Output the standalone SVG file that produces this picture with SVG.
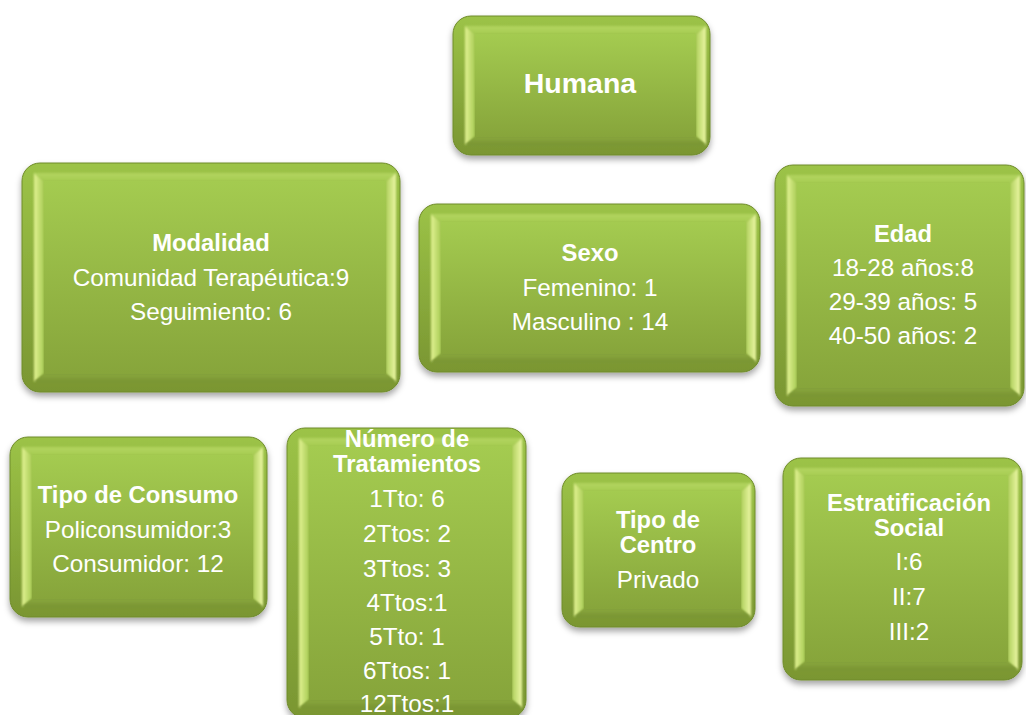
<svg xmlns="http://www.w3.org/2000/svg" width="1026" height="715" viewBox="0 0 1026 715">
  <defs>
    <linearGradient id="gRim" x1="0" y1="0" x2="0" y2="1">
      <stop offset="0" stop-color="#9cc347"/>
      <stop offset="1" stop-color="#7a9632"/>
    </linearGradient>
    <linearGradient id="gFace" x1="0" y1="0" x2="0" y2="1">
      <stop offset="0" stop-color="#a4cb50"/>
      <stop offset="1" stop-color="#87a53b"/>
    </linearGradient>
    <linearGradient id="gTop" x1="0" y1="0" x2="0" y2="1">
      <stop offset="0" stop-color="#b3d560"/>
      <stop offset="1" stop-color="#a6cc52"/>
    </linearGradient>
    <linearGradient id="gLeft" x1="0" y1="0" x2="1" y2="0">
      <stop offset="0" stop-color="#e2f292"/>
      <stop offset="1" stop-color="#a8cc55"/>
    </linearGradient>
    <linearGradient id="gRight" x1="0" y1="0" x2="1" y2="0">
      <stop offset="0" stop-color="#b0d05c"/>
      <stop offset="1" stop-color="#ecf7a4"/>
    </linearGradient>
    <linearGradient id="gBottom" x1="0" y1="0" x2="0" y2="1">
      <stop offset="0" stop-color="#8aa73e"/>
      <stop offset="1" stop-color="#789332"/>
    </linearGradient>
    <filter id="shadow" filterUnits="userSpaceOnUse" x="0" y="0" width="1026" height="740">
      <feDropShadow dx="0" dy="4" stdDeviation="3" flood-color="#000" flood-opacity="0.35"/>
    </filter>
    <filter id="soft" filterUnits="userSpaceOnUse" x="0" y="0" width="1026" height="740">
      <feGaussianBlur stdDeviation="1.2"/>
    </filter>
  </defs>
  <style>
    .rim { fill: url(#gRim); stroke: #6f8b2b; stroke-width: 1; filter: url(#shadow); }
    .face { fill: url(#gFace); }
    .bt { fill: url(#gTop); filter: url(#soft); }
    .bl { fill: url(#gLeft); filter: url(#soft); }
    .br { fill: url(#gRight); filter: url(#soft); }
    .bb { fill: url(#gBottom); filter: url(#soft); }
    text { font-family: "Liberation Sans", Arial, sans-serif; fill: #ffffff; font-size: 24.3px; text-anchor: middle; }
    .title { font-weight: bold; font-size: 23.8px; }
    .big { font-size: 28.5px; font-weight: bold; }
  </style>

  <!-- no connectors are drawn between the boxes -->
  <g id="connectors"></g>

  <g id="node-humana">
    <rect class="rim" x="453" y="16" width="257" height="139" rx="18"/>
    <polygon class="bt" points="465,26 706,26 696,34 475,34"/>
    <polygon class="bl" points="465,26 475,34 475,137 465,145"/>
    <polygon class="br" points="696,34 706,26 706,145 696,137"/>
    <polygon class="bb" points="475,137 696,137 706,145 465,145"/>
    <rect class="face" x="475" y="34" width="221" height="103"/>
    <text class="big" x="580" y="93">Humana</text>
  </g>

  <g id="node-modalidad">
    <rect class="rim" x="22" y="163" width="378" height="229" rx="18"/>
    <polygon class="bt" points="34,173 396,173 386,181 44,181"/>
    <polygon class="bl" points="34,173 44,181 44,374 34,382"/>
    <polygon class="br" points="386,181 396,173 396,382 386,374"/>
    <polygon class="bb" points="44,374 386,374 396,382 34,382"/>
    <rect class="face" x="44" y="181" width="342" height="193"/>
    <text class="title" x="211" y="251">Modalidad</text>
    <text x="211" y="286">Comunidad Terapéutica:9</text>
    <text x="211" y="320">Seguimiento: 6</text>
  </g>

  <g id="node-sexo">
    <rect class="rim" x="419" y="204" width="341" height="168" rx="18"/>
    <polygon class="bt" points="431,214 756,214 746,222 441,222"/>
    <polygon class="bl" points="431,214 441,222 441,354 431,362"/>
    <polygon class="br" points="746,222 756,214 756,362 746,354"/>
    <polygon class="bb" points="441,354 746,354 756,362 431,362"/>
    <rect class="face" x="441" y="222" width="305" height="132"/>
    <text class="title" x="590" y="261">Sexo</text>
    <text x="590" y="296">Femenino: 1</text>
    <text x="590" y="330">Masculino : 14</text>
  </g>

  <g id="node-edad">
    <rect class="rim" x="775" y="165" width="249" height="241" rx="18"/>
    <polygon class="bt" points="787,175 1020,175 1010,183 797,183"/>
    <polygon class="bl" points="787,175 797,183 797,388 787,396"/>
    <polygon class="br" points="1010,183 1020,175 1020,396 1010,388"/>
    <polygon class="bb" points="797,388 1010,388 1020,396 787,396"/>
    <rect class="face" x="797" y="183" width="213" height="205"/>
    <text class="title" x="903" y="242">Edad</text>
    <text x="903" y="276">18-28 años:8</text>
    <text x="903" y="310">29-39 años: 5</text>
    <text x="903" y="344">40-50 años: 2</text>
  </g>

  <g id="node-consumo">
    <rect class="rim" x="10" y="437" width="257" height="180" rx="18"/>
    <polygon class="bt" points="22,447 263,447 253,455 32,455"/>
    <polygon class="bl" points="22,447 32,455 32,599 22,607"/>
    <polygon class="br" points="253,455 263,447 263,607 253,599"/>
    <polygon class="bb" points="32,599 253,599 263,607 22,607"/>
    <rect class="face" x="32" y="455" width="221" height="144"/>
    <text class="title" x="138" y="503">Tipo de Consumo</text>
    <text x="138" y="538">Policonsumidor:3</text>
    <text x="138" y="572">Consumidor: 12</text>
  </g>

  <g id="node-tratamientos">
    <rect class="rim" x="287" y="428" width="239" height="290" rx="18"/>
    <polygon class="bt" points="299,438 522,438 512,446 309,446"/>
    <polygon class="bl" points="299,438 309,446 309,700 299,708"/>
    <polygon class="br" points="512,446 522,438 522,708 512,700"/>
    <polygon class="bb" points="309,700 512,700 522,708 299,708"/>
    <rect class="face" x="309" y="446" width="203" height="254"/>
    <text class="title" x="407" y="447">Número de<tspan x="407" dy="25">Tratamientos</tspan></text>
    <text x="407" y="507">1Tto: 6</text>
    <text x="407" y="542">2Ttos: 2</text>
    <text x="407" y="577">3Ttos: 3</text>
    <text x="407" y="611">4Ttos:1</text>
    <text x="407" y="645">5Tto: 1</text>
    <text x="407" y="679">6Ttos: 1</text>
    <text x="407" y="712">12Ttos:1</text>
  </g>

  <g id="node-centro">
    <rect class="rim" x="562" y="473" width="193" height="154" rx="18"/>
    <polygon class="bt" points="574,483 751,483 741,491 584,491"/>
    <polygon class="bl" points="574,483 584,491 584,609 574,617"/>
    <polygon class="br" points="741,491 751,483 751,617 741,609"/>
    <polygon class="bb" points="584,609 741,609 751,617 574,617"/>
    <rect class="face" x="584" y="491" width="157" height="118"/>
    <text class="title" x="658" y="528">Tipo de<tspan x="658" dy="25">Centro</tspan></text>
    <text x="658" y="588">Privado</text>
  </g>

  <g id="node-estratificacion">
    <rect class="rim" x="783" y="458" width="239" height="222" rx="18"/>
    <polygon class="bt" points="795,468 1018,468 1008,476 805,476"/>
    <polygon class="bl" points="795,468 805,476 805,662 795,670"/>
    <polygon class="br" points="1008,476 1018,468 1018,670 1008,662"/>
    <polygon class="bb" points="805,662 1008,662 1018,670 795,670"/>
    <rect class="face" x="805" y="476" width="203" height="186"/>
    <text class="title" x="909" y="511">Estratificación<tspan x="909" dy="25">Social</tspan></text>
    <text x="909" y="570">I:6</text>
    <text x="909" y="605">II:7</text>
    <text x="909" y="640">III:2</text>
  </g>
</svg>
